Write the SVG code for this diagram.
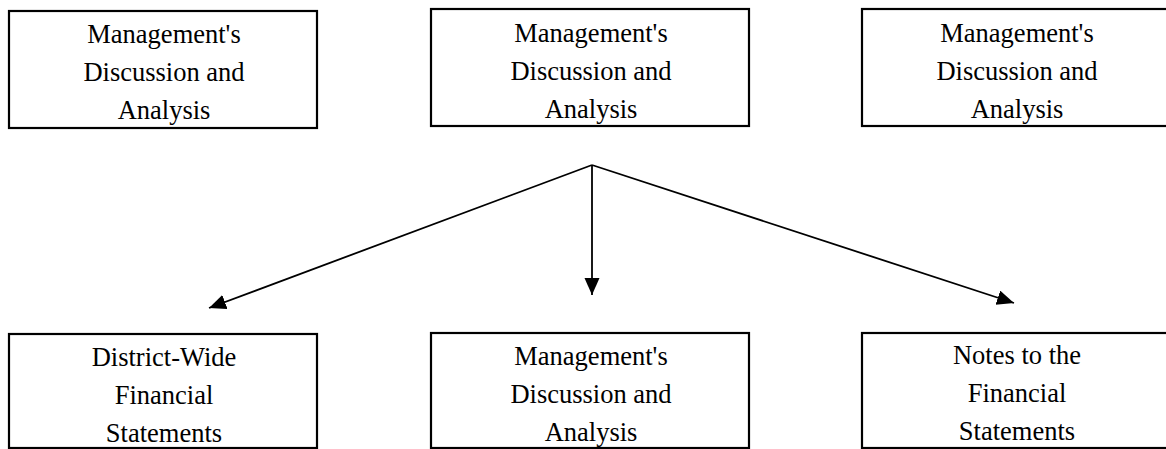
<svg xmlns="http://www.w3.org/2000/svg" width="1166" height="449" viewBox="0 0 1166 449">
<style>
.box{fill:#fff;stroke:#000;stroke-width:2.2}
.t{font-family:"Liberation Serif","Times New Roman",serif;font-size:26.5px;fill:#000;text-anchor:middle}
.c{fill:none;stroke:#000;stroke-width:1.8}
</style>
<defs>
<marker id="ah" markerUnits="userSpaceOnUse" markerWidth="18" markerHeight="16" refX="17" refY="7.5" orient="auto">
<path d="M0,0 L17,7.5 L0,15 z" fill="#000"/>
</marker>
</defs>
<rect width="1166" height="449" fill="#fff"/>
<g id="n1"><rect class="box" x="9" y="11" width="308" height="117"/>
<text class="t" x="164" y="43">Management's</text><text class="t" x="164" y="81">Discussion and</text><text class="t" x="164" y="119">Analysis</text></g>
<g id="n2"><rect class="box" x="431" y="9" width="318" height="117"/>
<text class="t" x="591" y="42">Management's</text><text class="t" x="591" y="80">Discussion and</text><text class="t" x="591" y="118">Analysis</text></g>
<g id="n3"><rect class="box" x="862" y="9" width="312" height="117"/>
<text class="t" x="1017" y="42">Management's</text><text class="t" x="1017" y="80">Discussion and</text><text class="t" x="1017" y="118">Analysis</text></g>
<g id="n4"><rect class="box" x="9" y="334" width="308" height="114"/>
<text class="t" x="164" y="366">District-Wide</text><text class="t" x="164" y="404">Financial</text><text class="t" x="164" y="442">Statements</text></g>
<g id="n5"><rect class="box" x="431" y="333" width="318" height="115"/>
<text class="t" x="591" y="365">Management's</text><text class="t" x="591" y="403">Discussion and</text><text class="t" x="591" y="441">Analysis</text></g>
<g id="n6"><rect class="box" x="862" y="333" width="312" height="115"/>
<text class="t" x="1017" y="364">Notes to the</text><text class="t" x="1017" y="402">Financial</text><text class="t" x="1017" y="440">Statements</text></g>
<g id="connectors">
<line class="c" x1="592" y1="165" x2="209" y2="308" marker-end="url(#ah)"/>
<line class="c" x1="592" y1="165" x2="592" y2="295" marker-end="url(#ah)"/>
<line class="c" x1="592" y1="165" x2="1014" y2="303" marker-end="url(#ah)"/>
</g>
</svg>
